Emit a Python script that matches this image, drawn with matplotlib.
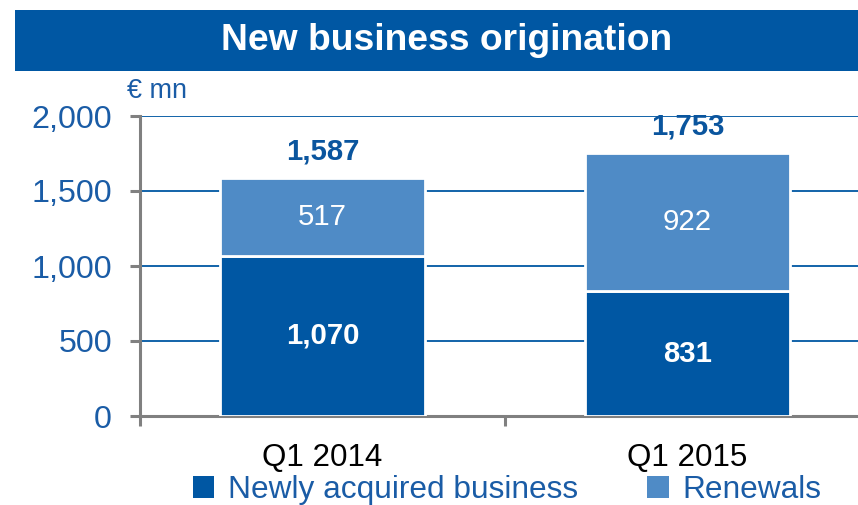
import matplotlib
matplotlib.use("Agg")
import matplotlib.pyplot as plt
from matplotlib.patches import Rectangle, Patch
import numpy as np

categories = ["Q1 2014", "Q1 2015"]
newly_acquired = [1070, 831]
renewals = [517, 922]
totals = [1587, 1753]
yticks = [0, 500, 1000, 1500, 2000]
ytick_labels = ["0", "500", "1,000", "1,500", "2,000"]
series_names = ["Newly acquired business", "Renewals"]

DARK = "#0057A3"
LIGHT = "#4F8BC6"
TXT = "#1A5CA6"
GREY = "#808080"

plt.rcParams['font.family'] = ['Liberation Sans', 'DejaVu Sans']

fig = plt.figure(figsize=(8.58, 5.05), dpi=100)

# banner
fig.patches.append(Rectangle((15/858, 1-71/505), 1-15/858, 61/505,
                             transform=fig.transFigure, facecolor=DARK,
                             edgecolor='none', zorder=0))
fig.text(447/858, 1-40.5/505, "New business origination", color='white',
         fontsize=26.8, fontweight='bold', ha='center', va='center')
fig.text(127/858, 1-91/505, "€ mn", color=TXT, fontsize=19.5,
         ha='left', va='center')

ax = fig.add_axes([140/858, 89/505, 730/858, 300/505])
x = np.arange(len(categories))
w = 0.562
ax.bar(x, newly_acquired, width=w, color=DARK, edgecolor='white',
       linewidth=2, zorder=3)
ax.bar(x, renewals, width=w, bottom=newly_acquired, color=LIGHT,
       edgecolor='white', linewidth=2, zorder=3)

for i in range(len(categories)):
    ax.text(x[i], newly_acquired[i]/2, f"{newly_acquired[i]:,}", color='white',
            fontsize=21.2, fontweight='bold', ha='center', va='center', zorder=4)
    ax.text(x[i], newly_acquired[i] + renewals[i]/2, f"{renewals[i]:,}",
            color='white', fontsize=21.2, ha='center', va='center', zorder=4)
    ax.annotate(f"{totals[i]:,}", (x[i], totals[i]), xytext=(0, 9),
                textcoords='offset points', color='#0A559E', fontsize=21.2,
                fontweight='bold', ha='center', va='bottom')

ax.set_xlim(-0.5, 1.5)
ax.set_ylim(0, 2000)
ax.set_yticks(yticks)
ax.set_yticklabels(ytick_labels)
ax.set_xticks(x)
ax.set_xticklabels(categories)
ax.set_xticks([-0.5, 0.5, 1.5], minor=True)

for yv in yticks[1:]:
    ax.axhline(yv, color=DARK, linewidth=1.3, zorder=1)

for s in ['top', 'right']:
    ax.spines[s].set_visible(False)
for s in ['left', 'bottom']:
    ax.spines[s].set_color(GREY)
    ax.spines[s].set_linewidth(2.2)

ax.tick_params(axis='y', direction='out', length=7.2, width=2.2, color=GREY,
               labelcolor=TXT, labelsize=23.2, pad=13)
ax.tick_params(axis='x', which='major', length=0, labelcolor='black',
               labelsize=22.6, pad=19.5)
ax.tick_params(axis='x', which='minor', direction='out', length=7.2,
               width=2.2, color=GREY)

handles = [Patch(facecolor=DARK, edgecolor='none'),
           Patch(facecolor=LIGHT, edgecolor='none')]
leg = fig.legend(handles, series_names, loc='center',
                 bbox_to_anchor=(507/858, 1-490/505), ncol=2, frameon=False,
                 fontsize=22.8, handlelength=0.68, handleheight=0.68,
                 handletextpad=0.42, columnspacing=2.2, borderpad=0,
                 borderaxespad=0)
for t in leg.get_texts():
    t.set_color(TXT)

fig.savefig("out.png", dpi=100)
